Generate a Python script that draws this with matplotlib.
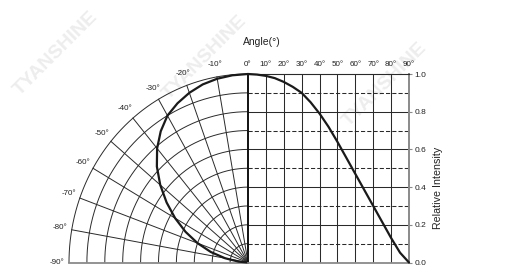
"""
Radiation pattern: polar half on the left, relative intensity vs angle on the right.
"""
import numpy as np
import matplotlib
matplotlib.use("Agg")
import matplotlib.pyplot as plt

plt.rcParams["font.family"] = ["Liberation Sans", "DejaVu Sans"]

# ── data ─────────────────────────────────────────────────────────────────────
angles = [0, 5, 10, 15, 20, 25, 30, 35, 40, 45, 50, 55, 60, 65, 70, 75, 80, 85, 90]
intensity = [1.0, 0.997, 0.99, 0.978, 0.958, 0.932, 0.90, 0.85, 0.79, 0.72,
             0.64, 0.555, 0.47, 0.385, 0.30, 0.215, 0.13, 0.052, 0.0]

top_ticks = [0, 10, 20, 30, 40, 50, 60, 70, 80, 90]
right_ticks = [0.0, 0.2, 0.4, 0.6, 0.8, 1.0]
grid_levels = [0.1, 0.2, 0.3, 0.4, 0.5, 0.6, 0.7, 0.8, 0.9, 1.0]
polar_labels = [-10, -20, -30, -40, -50, -60, -70, -80, -90]

watermark = "TYANSHINE"

# ── figure geometry (pixels) ─────────────────────────────────────────────────
W, H = 511, 279
OX, OY = 248, 262.5          # origin of polar half (from top-left)
RX, RY = 179.0, 188.5        # one unit of radius in x / y pixels
XR = 409                     # right edge of the cartesian grid

GRID = "#2a2a2a"
EDGE = "#8a8a8a"

fig = plt.figure(figsize=(W / 100, H / 100), dpi=100)

# full-figure axes for the polar half
ax = fig.add_axes([0, 0, 1, 1])
ax.set_xlim(-OX / RX, (W - OX) / RX)
ax.set_ylim(-(H - OY) / RY, OY / RY)
ax.axis("off")

# ── faint watermarks ─────────────────────────────────────────────────────────
for (px, py) in [(56, 54), (205, 58), (385, 85)]:
    ax.text((px - OX) / RX, (OY - py) / RY, watermark, rotation=45,
            fontsize=14, fontweight="bold", color="#ededed",
            ha="center", va="center", zorder=1)

# ── polar grid ───────────────────────────────────────────────────────────────
t = np.radians(np.linspace(0, 90, 200))
for r in grid_levels:
    ax.plot(-r * np.sin(t), r * np.cos(t), color=GRID, lw=0.7, zorder=2)
for a in polar_labels[:-1]:
    th = np.radians(-a)
    ax.plot([0, -np.sin(th)], [0, np.cos(th)], color=GRID, lw=0.7, zorder=2)
ax.plot([-1, 0], [0, 0], color=EDGE, lw=1.3, zorder=2)

for a in polar_labels:
    th = np.radians(-a)
    r = 1.065
    ax.text(-r * np.sin(th), r * np.cos(th), f"{a}°", fontsize=5.8,
            ha="center", va="center", color="#222222")

th = np.radians(angles)
I = np.array(intensity)
ax.plot(-I * np.sin(th), I * np.cos(th), color="#1a1a1a", lw=1.6,
        zorder=4, solid_capstyle="round", solid_joinstyle="round")

# ── cartesian half ───────────────────────────────────────────────────────────
axr = fig.add_axes([OX / W, (H - OY) / H, (XR - OX) / W, RY / H])
axr.set_xlim(0, 90)
axr.set_ylim(0, 1.0)
axr.patch.set_alpha(0)

for a in top_ticks[1:-1]:
    axr.axvline(a, color=GRID, lw=0.75, zorder=2)
for k, r in enumerate(grid_levels[:-1]):
    if k % 2 == 0:
        axr.axhline(r, color=GRID, lw=0.75, ls=(0, (4, 2)), zorder=2)
    else:
        axr.axhline(r, color=GRID, lw=0.75, zorder=2)

axr.plot(angles, intensity, color="#1a1a1a", lw=1.6, zorder=4,
         solid_capstyle="round", solid_joinstyle="round", clip_on=False)

axr.xaxis.tick_top()
axr.set_xticks(top_ticks)
axr.set_xticklabels([f"{a}°" for a in top_ticks], fontsize=5.8, color="#222222")
axr.tick_params(axis="x", length=0, pad=4)

axr.yaxis.tick_right()
axr.set_yticks(right_ticks)
axr.set_yticklabels([f"{v:.1f}" for v in right_ticks], fontsize=6, color="#222222")
axr.tick_params(axis="y", length=2.5, width=0.8, color=EDGE, pad=1.5)

axr.spines["top"].set_color(GRID)
axr.spines["top"].set_linewidth(0.8)
axr.spines["left"].set_color("#111111")
axr.spines["left"].set_linewidth(1.4)
axr.spines["right"].set_color(EDGE)
axr.spines["right"].set_linewidth(1.4)
axr.spines["bottom"].set_color(EDGE)
axr.spines["bottom"].set_linewidth(1.3)

# ── titles ───────────────────────────────────────────────────────────────────
fig.text(262 / W, 1 - 42 / H, "Angle(°)", fontsize=7.5, ha="center",
         va="center", color="#222222")
fig.text(438 / W, 1 - 188 / H, "Relative Intensity", fontsize=7.7,
         rotation=90, ha="center", va="center", color="#222222")

fig.savefig("out.png", dpi=100)
